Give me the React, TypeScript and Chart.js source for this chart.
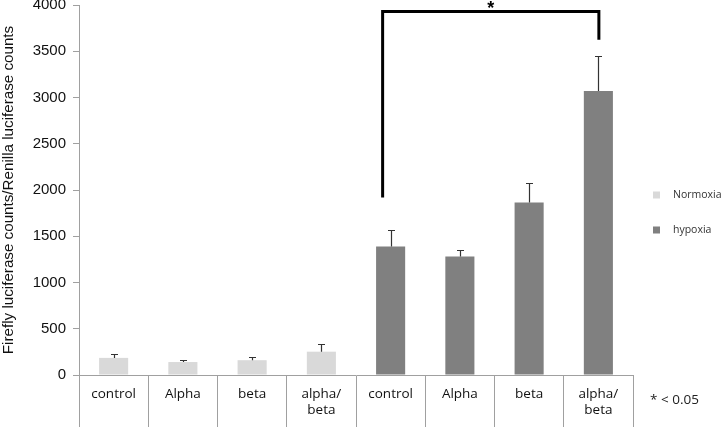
import React, { useEffect, useRef } from "react";
import { Chart, registerables } from "chart.js";

Chart.register(...registerables);

const categories: (string | string[])[] = [
  "control", "Alpha", "beta", ["alpha/", "beta"],
  "control", "Alpha", "beta", ["alpha/", "beta"],
];
const normoxiaValues = [185, 140, 160, 252, null, null, null, null];
const normoxiaErrors = [45, 25, 30, 80, null, null, null, null];
const hypoxiaValues = [null, null, null, null, 1390, 1280, 1865, 3070];
const hypoxiaErrors = [null, null, null, null, 180, 70, 210, 375];
const yTicksMin = 0;
const yTicksMax = 4000;
const yTicksStep = 500;
const seriesNames = ["Normoxia", "hypoxia"];
const seriesColors = ["#d9d9d9", "#808080"];
const bracketFrom = 4;
const bracketTo = 7;
const bracketTop = 3930;
const bracketLeftBottom = 1920;
const bracketRightBottom = 3625;
const noteText = "* < 0.05";

const errorBarPlugin = {
  id: "errorBars",
  afterDatasetsDraw(chart: any) {
    const ctx = chart.ctx;
    const y = chart.scales.y;
    const errs = [normoxiaErrors, hypoxiaErrors];
    ctx.save();
    ctx.strokeStyle = "#333";
    ctx.lineWidth = 1.2;
    chart.data.datasets.forEach((ds: any, di: number) => {
      const meta = chart.getDatasetMeta(di);
      meta.data.forEach((bar: any, i: number) => {
        const v = ds.data[i];
        const e = errs[di][i];
        if (v == null || e == null) return;
        const x = Math.round(bar.x) + 0.5;
        const y0 = y.getPixelForValue(v);
        const y1 = Math.round(y.getPixelForValue(v + e)) + 0.5;
        ctx.beginPath();
        ctx.moveTo(x, y0);
        ctx.lineTo(x, y1);
        ctx.moveTo(x - 3.5, y1);
        ctx.lineTo(x + 3.5, y1);
        ctx.stroke();
      });
    });
    ctx.restore();
  },
};

const annotationPlugin = {
  id: "annotations",
  afterDraw(chart: any) {
    const ctx = chart.ctx;
    const xs = chart.scales.x;
    const ys = chart.scales.y;
    const xl = xs.getPixelForValue(bracketFrom) - 8;
    const xr = xs.getPixelForValue(bracketTo) + 0.5;
    const yt = ys.getPixelForValue(bracketTop);
    ctx.save();
    ctx.strokeStyle = "#000";
    ctx.lineWidth = 3;
    ctx.lineJoin = "miter";
    ctx.beginPath();
    ctx.moveTo(xl, ys.getPixelForValue(bracketLeftBottom));
    ctx.lineTo(xl, yt);
    ctx.lineTo(xr, yt);
    ctx.lineTo(xr, ys.getPixelForValue(bracketRightBottom));
    ctx.stroke();
    ctx.fillStyle = "#000";
    ctx.font = "bold 18px 'Liberation Sans', Arial, sans-serif";
    ctx.textAlign = "center";
    ctx.textBaseline = "alphabetic";
    ctx.fillText("*", (xl + xr) / 2, yt + 3);

    // legend
    const lx = chart.chartArea.right + 20;
    const lys = [195, 230];
    ctx.font = "10.5px 'Open Sans', sans-serif";
    ctx.textAlign = "left";
    ctx.textBaseline = "middle";
    chart.data.datasets.forEach((ds: any, i: number) => {
      ctx.fillStyle = ds.backgroundColor;
      ctx.fillRect(lx, lys[i] - 3.5, 7, 7);
      ctx.fillStyle = "#333";
      ctx.fillText(ds.label, lx + 20, lys[i]);
    });

    // note
    ctx.font = "13.5px 'Open Sans', sans-serif";
    ctx.fillStyle = "#222";
    ctx.textBaseline = "middle";
    ctx.fillText(noteText, chart.chartArea.right + 17, 400);
    ctx.restore();
  },
};

export default function App() {
  const ref = useRef<HTMLCanvasElement>(null);
  useEffect(() => {
    if (!ref.current) return;
    const chart = new Chart(ref.current, {
      type: "bar",
      data: {
        labels: categories as any,
        datasets: [
          {
            label: seriesNames[0],
            data: normoxiaValues as any,
            backgroundColor: seriesColors[0],
            grouped: false,
            barPercentage: 0.42,
            categoryPercentage: 1,
          } as any,
          {
            label: seriesNames[1],
            data: hypoxiaValues as any,
            backgroundColor: seriesColors[1],
            grouped: false,
            barPercentage: 0.42,
            categoryPercentage: 1,
          } as any,
        ],
      },
      options: {
        animation: false,
        responsive: true,
        maintainAspectRatio: false,
        layout: { padding: { left: 0, right: 93, top: 5, bottom: 0 } },
        plugins: {
          legend: { display: false },
          tooltip: { enabled: false },
        },
        scales: {
          x: {
            offset: true,
            grid: {
              display: true,
              offset: true,
              drawOnChartArea: false,
              drawTicks: true,
              tickLength: 52,
              color: "#a0a0a0",
            },
            border: { display: true, color: "#a0a0a0" },
            ticks: {
              padding: -41,
              color: "#111",
              font: { family: "'Open Sans', sans-serif", size: 13.5 },
              maxRotation: 0,
              autoSkip: false,
            },
            afterFit(scale: any) {
              scale.height = 54;
            },
          },
          y: {
            min: yTicksMin,
            max: yTicksMax,
            ticks: {
              stepSize: yTicksStep,
              padding: 7,
              color: "#111",
              font: { family: "'Liberation Sans', Arial, sans-serif", size: 15 },
              callback: (v: any) => String(v),
            },
            grid: {
              display: true,
              drawOnChartArea: false,
              drawTicks: true,
              tickLength: 6,
              color: "#a0a0a0",
            },
            border: { display: true, color: "#a0a0a0" },
            title: {
              display: true,
              text: "Firefly luciferase counts/Renilla luciferase counts",
              color: "#111",
              padding: { top: 0, bottom: 0 },
              font: { family: "'Liberation Sans', Arial, sans-serif", size: 15.2 },
            },
            afterFit(scale: any) {
              scale.width = 79;
              scale.paddingTop = 0;
              scale.paddingBottom = 0;
            },
          },
        },
      },
      plugins: [errorBarPlugin, annotationPlugin],
    });
    return () => chart.destroy();
  }, []);
  return (
    <div style={{ position: "absolute", left: 0, top: 0, width: 726, height: 429, background: "#fff" }}>
      <canvas ref={ref} />
    </div>
  );
}
